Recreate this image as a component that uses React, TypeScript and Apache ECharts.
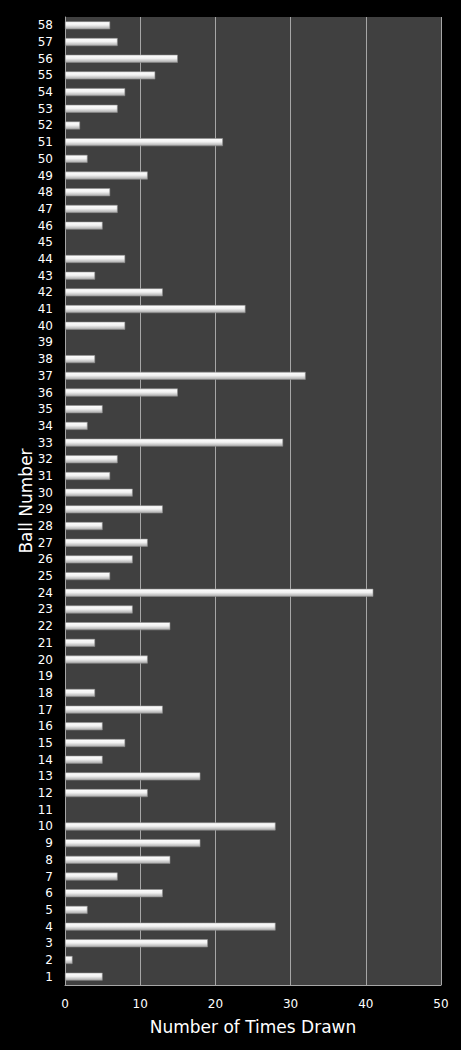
import React, { useEffect, useRef } from "react";
import * as echarts from "echarts";

const ballNumbers: string[] = Array.from({ length: 58 }, (_, i) => String(i + 1));
// times drawn for balls 1..58
const timesDrawn: number[] = [
  5, 1, 19, 28, 3, 13, 7, 14, 18, 28,
  0, 11, 18, 5, 8, 5, 13, 4, 0, 11,
  4, 14, 9, 41, 6, 9, 11, 5, 13, 9,
  6, 7, 29, 3, 5, 15, 32, 4, 0, 8,
  24, 13, 4, 8, 0, 5, 7, 6, 11, 3,
  21, 2, 7, 8, 12, 15, 7, 6,
];
const xTicks = { min: 0, max: 50, interval: 10 };

export default function App() {
  const ref = useRef<HTMLDivElement>(null);
  useEffect(() => {
    if (!ref.current) return;
    const chart = echarts.init(ref.current, undefined, { renderer: "svg" });
    chart.setOption({
      animation: false,
      backgroundColor: "#000000",
      grid: {
        left: 65,
        right: 20,
        top: 17,
        bottom: 65,
        show: true,
        backgroundColor: "#404040",
        borderWidth: 0,
      },
      xAxis: {
        type: "value",
        min: xTicks.min,
        max: xTicks.max,
        interval: xTicks.interval,
        name: "Number of Times Drawn",
        nameLocation: "middle",
        nameGap: 33,
        nameMoveOverlap: false,
        nameTextStyle: { color: "#ffffff", fontSize: 17, fontFamily: "DejaVu Sans" },
        axisLine: { show: true, lineStyle: { color: "#a6a6a6", width: 1 } },
        axisTick: { show: false },
        axisLabel: { color: "#ffffff", fontSize: 12, fontFamily: "DejaVu Sans", margin: 13 },
        splitLine: { show: true, lineStyle: { color: "#a6a6a6", width: 1 } },
      },
      yAxis: {
        type: "category",
        data: ballNumbers,
        name: "Ball Number",
        nameLocation: "middle",
        nameGap: 31,
        nameMoveOverlap: false,
        nameTextStyle: { color: "#ffffff", fontSize: 17, fontFamily: "DejaVu Sans" },
        axisLine: { show: true, lineStyle: { color: "#a6a6a6", width: 1 } },
        axisTick: { show: false },
        axisLabel: { color: "#ffffff", fontSize: 12, fontFamily: "DejaVu Sans", margin: 12, interval: 0 },
        splitLine: { show: false },
      },
      series: [
        {
          type: "bar",
          data: timesDrawn.map((v) => (v === 0 ? null : v)),
          barWidth: 8,
          itemStyle: {
            color: new echarts.graphic.LinearGradient(0, 0, 0, 1, [
              { offset: 0, color: "#ffffff" },
              { offset: 0.45, color: "#f2f2f2" },
              { offset: 1, color: "#a8a8a8" },
            ]),
            borderColor: "#8c8c8c",
            borderWidth: 0.6,
          },
        },
      ],
    });
    return () => chart.dispose();
  }, []);
  return (
    <div
      ref={ref}
      style={{ position: "fixed", left: 0, top: 0, width: 461, height: 1050 }}
    />
  );
}
